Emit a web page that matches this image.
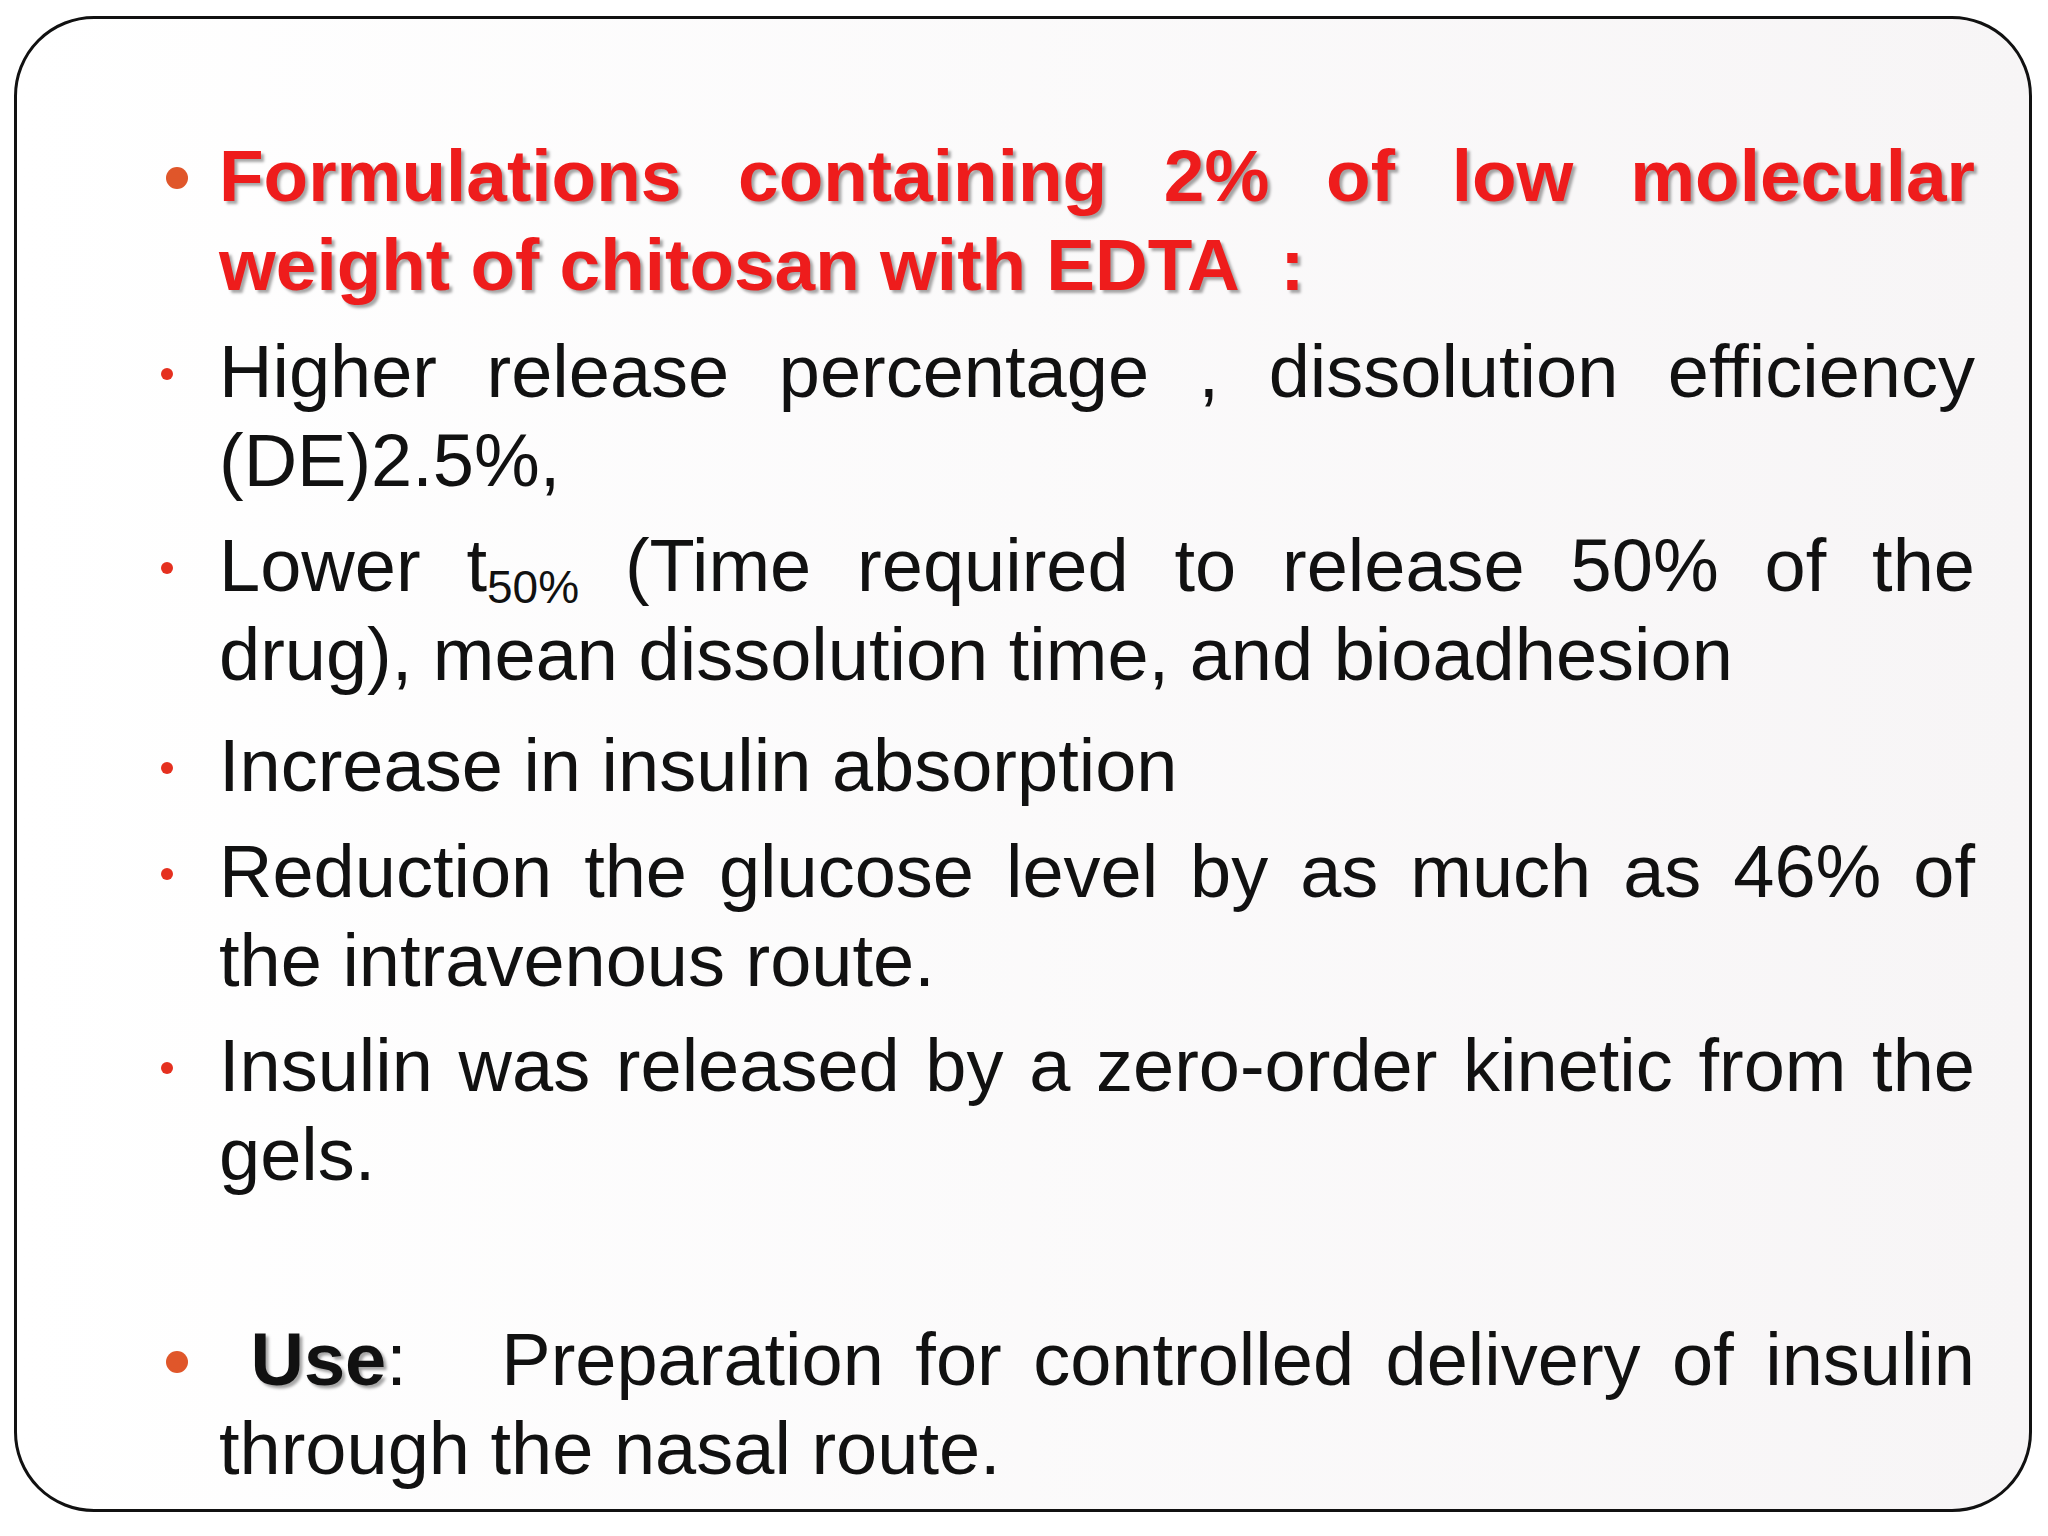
<!DOCTYPE html>
<html>
<head>
<meta charset="utf-8">
<script src="https://cdn.jsdelivr.net/npm/chart.js@4"></script>
<style>
  html, body { margin: 0; padding: 0; background: #fff; }
  #slide { position: relative; width: 2048px; height: 1536px; overflow: hidden;
    font-family: "Liberation Sans", Arial, sans-serif; }
  #frame { position: absolute; left: 14px; top: 16px; width: 2018px; height: 1496px;
    border: 3px solid #111; border-radius: 80px; box-sizing: border-box;
    background: linear-gradient(90deg, #fff 0%, #f7f5f6 100%); }
  .para { position: absolute; left: 219px; width: 1756px; text-align: justify;
    text-align-last: left; font-size: 74px; line-height: 89px; color: #111; }
  .head { font-weight: bold; font-size: 73px; color: #ee1c1c; text-shadow: 3px 3px 3px rgba(0,0,0,0.35); }
  .dot { position: absolute; border-radius: 50%; }
  sub { font-size: 46px; vertical-align: -12px; line-height: 0; }
  .use { font-weight: bold; text-shadow: 3px 3px 3px rgba(0,0,0,0.35); }
</style>
</head>
<body>
<div id="slide">
  <div id="frame"></div>
</div>
<script>
// slide content
const headingText = ["Formulations containing 2% of low molecular weight of chitosan with EDTA&nbsp; :"];
const bulletTexts = [
  "Higher release percentage , dissolution efficiency (DE)2.5%,",
  "Lower t<sub>50%</sub> (Time required to release 50% of the drug), mean dissolution time, and bioadhesion",
  "Increase in insulin absorption",
  "Reduction the glucose level by as much as 46% of the intravenous route.",
  "Insulin was released by a zero-order kinetic from the gels."
];
const useText = ["<span class='use'>&nbsp;Use</span>:&nbsp;&nbsp; Preparation for controlled delivery of insulin through the nasal route."];
const bulletTops = [327, 521, 721, 827, 1021];

const slide = document.getElementById("slide");

function addPara(html, top, cls) {
  const p = document.createElement("div");
  p.className = "para " + (cls || "");
  p.style.top = top + "px";
  p.innerHTML = html;
  slide.appendChild(p);
}
function addDot(x, y, size, color) {
  const d = document.createElement("div");
  d.className = "dot";
  d.style.left = (x - size / 2) + "px";
  d.style.top = (y - size / 2) + "px";
  d.style.width = size + "px";
  d.style.height = size + "px";
  d.style.background = color;
  slide.appendChild(d);
}

addPara(headingText[0], 131, "head");
addDot(177, 178, 22, "#e0562a");

bulletTexts.forEach((t, i) => {
  addPara(t, bulletTops[i]);
  addDot(167, bulletTops[i] + 47, 12, "#e5301f");
});

addPara(useText[0], 1315);
addDot(177, 1362, 22, "#e0562a");
</script>
</body>
</html>
